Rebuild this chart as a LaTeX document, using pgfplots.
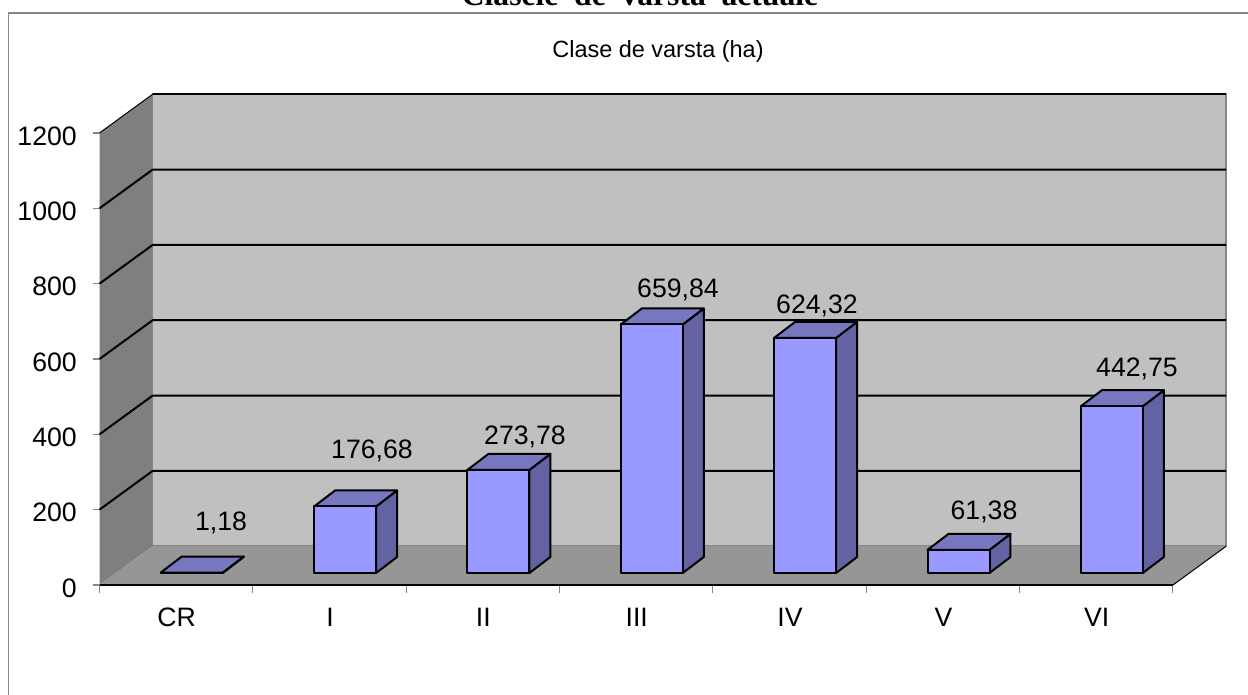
\documentclass[border=0pt]{standalone}
\usepackage{pgfplots}
\pgfplotsset{compat=1.18}
\usepackage{fontspec}
\setmainfont{Liberation Sans}
\newfontfamily\titlefont{Liberation Serif}
\definecolor{wallback}{HTML}{C0C0C0}
\definecolor{wallside}{HTML}{7F7F7F}
\definecolor{floorc}{HTML}{969696}
\definecolor{barfront}{HTML}{9999FF}
\definecolor{bartop}{HTML}{7777C0}
\definecolor{barside}{HTML}{6363A3}
\definecolor{edgeg}{HTML}{868686}
\newlength{\px}\setlength{\px}{0.75pt}
% one px in data units: x 1/153.36 = 0.00652, y 1200/452 = 2.655
\newcommand{\threedbar}[2]{%
  \pgfmathsetmacro{\xa}{#1+0.5+(15.6-31)*0.00652}%
  \pgfmathsetmacro{\xb}{#1+0.5+(15.6+31)*0.00652}%
  \pgfmathsetmacro{\xc}{\xa+21*0.00652}%
  \pgfmathsetmacro{\xd}{\xb+21*0.00652}%
  \pgfmathsetmacro{\ya}{12*2.655}%
  \pgfmathsetmacro{\yb}{\ya+#2}%
  \pgfmathsetmacro{\yc}{\ya+16*2.655}%
  \pgfmathsetmacro{\yd}{\yb+16*2.655}%
  \edef\doplot{%
    \noexpand\addplot[draw=black,line width=2\px,line join=round,fill=barside] coordinates {(\xb,\ya) (\xd,\yc) (\xd,\yd) (\xb,\yb)} -- cycle;
    \noexpand\addplot[draw=black,line width=2\px,line join=round,fill=bartop] coordinates {(\xa,\yb) (\xb,\yb) (\xd,\yd) (\xc,\yd)} -- cycle;
    \noexpand\addplot[draw=black,line width=2\px,line join=round,fill=barfront] coordinates {(\xa,\ya) (\xb,\ya) (\xb,\yb) (\xa,\yb)} -- cycle;
  }\doplot
}
\begin{document}
\begin{tikzpicture}[x=\px,y=\px]
\useasboundingbox (0,0) rectangle (1248,695);
\clip (0,0) rectangle (1248,695);
% chart frame
\draw[edgeg,line width=1.5\px] (8.5,-5) -- (8.5,682) -- (1255,682);
% titles
\node[font=\titlefont\bfseries\fontsize{23.7pt}{26pt}\selectfont,anchor=base] at (640,689) {Clasele\ \ de\ \ varsta\ \ actuale};
\node[font=\fontsize{17.6pt}{20pt}\selectfont,anchor=base] at (658,637) {Clase de varsta (ha)};
\begin{axis}[
  at={(74.625pt,82.5pt)}, anchor=south west,
  scale only axis, width=805.1pt, height=339pt,
  xmin=0, xmax=7, ymin=0, ymax=1200,
  clip=false, axis line style={draw=none},
  xtick={0.5,1.5,2.5,3.5,4.5,5.5,6.5},
  xticklabels={CR,I,II,III,IV,V,VI},
  minor xtick={0,1,2,3,4,5,6,7},
  ytick={0,200,400,600,800,1000,1200},
  major x tick style={draw=none},
  minor x tick style={draw=edgeg,line width=1\px},
  y tick style={draw=edgeg,line width=1.5\px},
  minor tick length=8\px,
  major tick length=7\px,
  tick align=outside, xtick pos=bottom, ytick pos=left,
  xticklabel style={yshift=-11\px,xshift=0.5\px,font=\fontsize{20pt}{22pt}\selectfont},
  yticklabel style={xshift=-11\px,yshift=-3\px,font=\fontsize{20pt}{22pt}\selectfont},
  /pgf/number format/assume math mode=true,
  /pgf/number format/1000 sep={},
]
% walls and floor
\addplot[draw=none,fill=wallside] coordinates {(0,0) (0.347,103) (0.347,1303) (0,1200)} -- cycle;
\addplot[draw=edgeg,line width=1.5\px,fill=wallback] coordinates {(0.347,103) (7.347,103) (7.347,1303) (0.347,1303)} -- cycle;
\addplot[draw=none,fill=floorc] coordinates {(0,0) (0.347,103) (7.347,103) (7,0)} -- cycle;
% gridlines
\addplot[black,line width=1\px] coordinates {(0,1200) (0.347,1303)};
\addplot[black,line width=2\px] coordinates {(0.347,1303) (7.347,1303)};
\addplot[black,line width=2\px] coordinates {(0,1000) (0.347,1103) (7.347,1103)};
\addplot[black,line width=2\px] coordinates {(0,800) (0.347,903) (7.347,903)};
\addplot[black,line width=2\px] coordinates {(0,600) (0.347,703) (7.347,703)};
\addplot[black,line width=2\px] coordinates {(0,400) (0.347,503) (7.347,503)};
\addplot[black,line width=2\px] coordinates {(0,200) (0.347,303) (7.347,303)};
% floor front edges
\addplot[black,line width=2\px] coordinates {(0,0) (7,0)};
\addplot[black,line width=1\px] coordinates {(7,0) (7.347,103)};
% bars
\threedbar{0}{1.18}
\threedbar{1}{176.68}
\threedbar{2}{273.78}
\threedbar{3}{659.84}
\threedbar{4}{624.32}
\threedbar{5}{61.38}
\threedbar{6}{442.75}
\end{axis}
% data labels
\begin{scope}[every node/.style={font=\fontsize{20pt}{22pt}\selectfont,anchor=base}]
\node at (221,695-531) {1,18};
\node at (372,695-459) {176,68};
\node at (525,695-445) {273,78};
\node at (678,695-298) {659,84};
\node at (817,695-314) {624,32};
\node at (984,695-520) {61,38};
\node at (1137,695-377) {442,75};
\end{scope}
\end{tikzpicture}
\end{document}
